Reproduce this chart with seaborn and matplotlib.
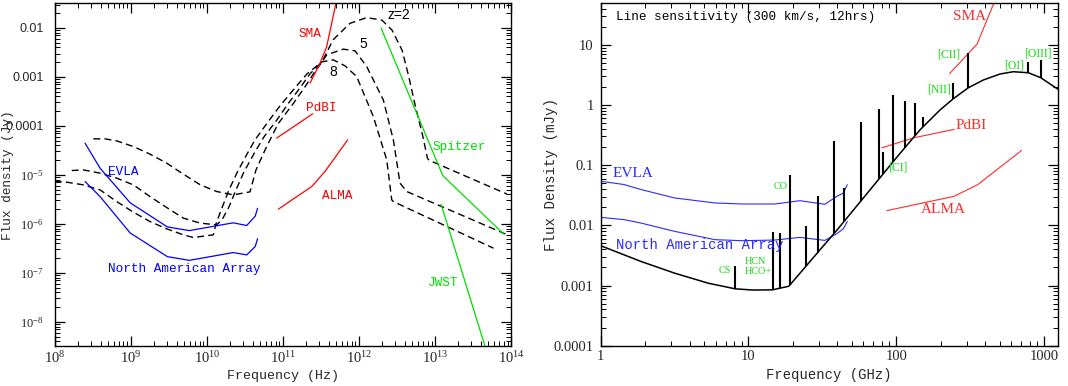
import numpy as np
import pandas as pd
import seaborn as sns
import matplotlib.pyplot as plt
from matplotlib.ticker import LogLocator, FuncFormatter, NullFormatter

# left panel, values in log10(Hz) and log10(Jy)
z2_lognu = [8.507, 8.661, 8.814, 9.033, 9.252, 9.472, 9.69, 9.914, 10.129, 10.348, 10.567, 10.646,
            10.778, 10.936, 11.133, 11.291, 11.409, 11.514, 11.659, 11.882, 12.102, 12.302, 12.436,
            12.569, 12.658, 12.747, 12.836, 12.902, 12.924, 13.947]
z2_logS = [-4.265, -4.265, -4.306, -4.422, -4.577, -4.761, -4.985, -5.204, -5.34, -5.408, -5.347, -4.898,
           -4.449, -3.959, -3.55, -3.203, -2.918, -2.693, -2.244, -1.907, -1.79, -1.841, -2.048,
           -2.462, -3.014, -3.634, -4.186, -4.669, -4.703, -5.393]

z5_lognu = [8.223, 8.375, 8.595, 8.814, 9.033, 9.252, 9.472, 9.69, 9.914, 10.129, 10.199, 10.291,
            10.383, 10.488, 10.633, 10.751, 10.922, 11.067, 11.225, 11.356, 11.514, 11.576, 11.794,
            11.948, 12.102, 12.32, 12.452, 12.54, 12.628, 13.947]
z5_logS = [-4.912, -4.898, -4.965, -5.067, -5.204, -5.443, -5.667, -5.883, -5.986, -6.02, -5.918, -5.653,
           -5.306, -4.939, -4.53, -4.224, -3.877, -3.55, -3.224, -2.938, -2.693, -2.55, -2.434,
           -2.468, -2.789, -3.469, -4.285, -5.169, -5.34, -6.221]

z8_lognu = [8.0, 8.157, 8.375, 8.595, 8.814, 9.033, 9.252, 9.472, 9.69, 9.822, 10.085, 10.12, 10.199,
            10.291, 10.396, 10.515, 10.633, 10.804, 10.962, 11.159, 11.317, 11.514, 11.662, 11.817,
            11.97, 12.189, 12.365, 12.431, 12.452, 13.769]
z8_logS = [-5.136, -5.149, -5.204, -5.306, -5.545, -5.761, -5.953, -6.102, -6.224, -6.279, -6.224, -6.0,
           -5.673, -5.306, -4.959, -4.612, -4.286, -3.918, -3.591, -3.224, -2.938, -2.693, -2.652,
           -2.775, -2.993, -3.81, -4.693, -5.51, -5.545, -6.497]

evla_lognu = [8.398, 8.595, 8.991, 9.48, 9.769, 10.347, 10.524, 10.636, 10.667]
evla_logS = [-4.353, -4.863, -5.57, -6.062, -6.138, -5.979, -6.034, -5.841, -5.683]
naa_lognu = [8.398, 8.595, 8.991, 9.48, 9.769, 10.347, 10.524, 10.636, 10.667]
naa_logS = [-5.136, -5.443, -6.186, -6.669, -6.745, -6.586, -6.634, -6.462, -6.303]

sma_lognu = [11.356, 11.488, 11.576, 11.707]
sma_logS = [-3.128, -2.72, -2.381, -1.427]
pdbi_lognu = [10.918, 11.391]
pdbi_logS = [-4.25, -3.754]
alma_lognu = [10.94, 11.379, 11.553, 11.852]
alma_logS = [-5.7, -5.238, -4.932, -4.285]
spitzer_lognu = [12.29, 13.102, 13.902]
spitzer_logS = [-2.0, -5.014, -6.207]
jwst_lognu = [13.08, 13.7]
jwst_logS = [-5.6, -8.71]

left_xticks = [1e8, 1e9, 1e10, 1e11, 1e12, 1e13, 1e14]
left_yticks = [1e-8, 1e-7, 1e-6, 1e-5, 1e-4, 1e-3, 1e-2]

# right panel, values in log10(GHz) and log10(mJy)
cont_lognu = [0.0, 0.273, 0.501, 0.729, 0.911, 1.03, 1.162, 1.273, 1.60, 2.026, 2.161, 2.296, 2.386,
              2.488, 2.589, 2.702, 2.792, 2.894, 2.978, 3.092]
cont_logS = [-2.338, -2.6, -2.795, -2.962, -3.055, -3.075, -3.072, -3.012, -2.075, -0.803, -0.413,
             -0.083, 0.104, 0.287, 0.415, 0.515, 0.553, 0.536, 0.453, 0.265]

evla_r_lognu = [0.0, 0.159, 0.273, 0.501, 0.774, 0.957, 1.18, 1.349, 1.517, 1.597, 1.641, 1.669]
evla_r_logS = [-1.267, -1.322, -1.405, -1.545, -1.628, -1.645, -1.645, -1.59, -1.65, -1.52, -1.465, -1.325]
naa_r_logS = [-1.867, -1.905, -1.962, -2.10, -2.238, -2.255, -2.244, -2.20, -2.25, -2.14, -2.06, -1.935]

sma_r_lognu = [2.361, 2.547, 2.70]
sma_r_logS = [0.522, 1.012, 1.93]
pdbi_r_lognu = [1.902, 2.119, 2.392]
pdbi_r_logS = [-0.712, -0.545, -0.405]
alma_r_lognu = [1.937, 2.392, 2.552, 2.848]
alma_r_logS = [-1.755, -1.517, -1.322, -0.755]

# emission lines (GHz, peak mJy)
line_ghz = [8.12, 14.7, 16.4, 19.1, 24.5, 29.4, 38.1, 44.4, 57.5, 76.5, 81.8, 95.1, 114.2, 133.4,
            151.8, 243.0, 307.5, 783.0, 950.0]
line_peak = [0.00213, 0.00766, 0.00738, 0.0687, 0.00975, 0.0311, 0.255, 0.0422, 0.527, 0.847, 0.164,
             1.47, 1.18, 1.07, 0.624, 2.34, 7.23, 5.24, 5.58]

green_labels = ["CO", "CS", "HCN", "HCO+", "[CI]", "[NII]", "[CII]", "[OI]", "[OIII]"]
green_x = [16.6, 6.96, 11.2, 11.65, 102.7, 195.0, 228.0, 628.0, 907.0]
green_y = [0.0447, 0.00176, 0.00255, 0.00172, 0.0902, 1.78, 7.0, 4.47, 7.16]

right_xticks = [1, 10, 100, 1000]
right_yticks = [1e-4, 1e-3, 1e-2, 0.1, 1, 10]

sns.set_theme(style="ticks")
plt.rcParams["font.family"] = ["Liberation Sans", "DejaVu Sans"]
plt.rcParams["mathtext.fontset"] = "custom"
plt.rcParams["mathtext.rm"] = "Liberation Serif"
plt.rcParams["mathtext.it"] = "Liberation Serif:italic"
plt.rcParams["axes.linewidth"] = 1.0
plt.rcParams["axes.edgecolor"] = "black"

GREEN = "#11dd11"
MONO = "Liberation Mono"
SERIF = "Liberation Serif"


def draw(ax, lognu, logs, color, lw=0.9, dashes=None):
    df = pd.DataFrame({"nu": 10 ** np.array(lognu), "S": 10 ** np.array(logs)})
    kw = {} if dashes is None else {"dashes": dashes}
    sns.lineplot(data=df, x="nu", y="S", ax=ax, color=color, lw=lw, sort=False,
                 estimator=None, **kw)


def style_axes(ax, xticks, yticks):
    ax.set_xscale("log")
    ax.set_yscale("log")
    ax.set_xticks(xticks)
    ax.set_yticks(yticks)
    ax.tick_params(which="both", direction="in", top=True, right=True, color="black")
    ax.tick_params(which="major", length=7, width=0.9)
    ax.tick_params(which="minor", length=3.5, width=0.7)
    for axis in (ax.xaxis, ax.yaxis):
        axis.set_minor_locator(LogLocator(base=10, subs=np.arange(2, 10), numticks=30))
        axis.set_minor_formatter(NullFormatter())


def left_ylab(v, p):
    if v >= 1e-4:
        return f"{v:g}"
    return r"$10^{%d}$" % round(np.log10(v))


fig = plt.figure(figsize=(10.68, 3.86), dpi=100)
ax1 = fig.add_axes([0.0513, 0.1028, 0.4272, 0.8884])
ax2 = fig.add_axes([0.5624, 0.1044, 0.4279, 0.8868])

# ---- left panel ----
for lx, ly in [(z2_lognu, z2_logS), (z5_lognu, z5_logS), (z8_lognu, z8_logS)]:
    draw(ax1, lx, ly, "black", lw=1.0, dashes=(5, 3))
draw(ax1, evla_lognu, evla_logS, "blue")
draw(ax1, naa_lognu, naa_logS, "blue")
draw(ax1, sma_lognu, sma_logS, "red")
draw(ax1, pdbi_lognu, pdbi_logS, "red")
draw(ax1, alma_lognu, alma_logS, "red")
draw(ax1, spitzer_lognu, spitzer_logS, "#00dd00")
draw(ax1, jwst_lognu, jwst_logS, "#00dd00")

style_axes(ax1, left_xticks, left_yticks)
ax1.set_xlim(1e8, 1e14)
ax1.set_ylim(10 ** -8.5, 10 ** -1.5)
ax1.yaxis.set_major_formatter(FuncFormatter(left_ylab))
ax1.xaxis.set_major_formatter(FuncFormatter(lambda v, p: r"$10^{%d}$" % round(np.log10(v))))
ax1.tick_params(axis="y", which="major", labelsize=9, pad=8)
ax1.tick_params(axis="x", which="major", labelsize=10.5, pad=3)
ax1.set_xlabel("Frequency (Hz)", family=MONO, fontsize=9.6)
ax1.set_ylabel("Flux density (Jy)", family=MONO, fontsize=9.2)
ax1.xaxis.set_label_coords(0.5, -0.069)
ax1.xaxis.label.set_va("top")
ax1.yaxis.set_label_coords(-0.09, 0.5)

for s, x, y in [("z=2", 12.524, -1.738), ("5", 12.058, -2.324), ("8", 11.658, -2.91)]:
    ax1.text(10 ** x, 10 ** y, s, color="black", ha="center", va="center", fontsize=10)
for s, x, y, c in [("SMA", 11.36, -2.117, "red"), ("PdBI", 11.502, -3.634, "red"),
                   ("ALMA", 11.716, -5.428, "red"), ("Spitzer", 13.324, -4.428, "#00dd00"),
                   ("EVLA", 8.902, -4.945, "blue"), ("North American Array", 9.702, -6.924, "blue"),
                   ("JWST", 13.102, -7.2, "#00dd00")]:
    ax1.text(10 ** x, 10 ** y, s, color=c, ha="center", va="center", fontsize=9.2, family=MONO)

# ---- right panel ----
draw(ax2, evla_r_lognu, evla_r_logS, "#2a2aff", lw=0.8)
draw(ax2, evla_r_lognu, naa_r_logS, "#2a2aff", lw=0.8)
draw(ax2, sma_r_lognu, sma_r_logS, "#ff2a2a", lw=0.8)
draw(ax2, pdbi_r_lognu, pdbi_r_logS, "#ff2a2a", lw=0.8)
draw(ax2, alma_r_lognu, alma_r_logS, "#ff2a2a", lw=0.8)
draw(ax2, cont_lognu, cont_logS, "black", lw=1.1)

line_base = 10 ** np.interp(np.log10(line_ghz), cont_lognu, cont_logS)
ax2.vlines(line_ghz, line_base, line_peak, color="black", lw=1.5)

style_axes(ax2, right_xticks, right_yticks)
ax2.set_xlim(1, 1236)
ax2.set_ylim(1e-4, 48.8)
ax2.xaxis.set_major_formatter(FuncFormatter(lambda v, p: f"{v:g}"))
ax2.yaxis.set_major_formatter(FuncFormatter(lambda v, p: f"{v:g}"))
ax2.tick_params(axis="y", which="major", labelsize=10.5, pad=5)
ax2.tick_params(axis="x", which="major", labelsize=10.5, pad=3)
for lab in ax2.get_xticklabels() + ax2.get_yticklabels():
    lab.set_family(SERIF)
ax2.set_xlabel("Frequency (GHz)", family=MONO, fontsize=10)
ax2.set_ylabel("Flux Density (mJy)", family=MONO, fontsize=10.2)
ax2.xaxis.set_label_coords(0.5, -0.065)
ax2.xaxis.label.set_va("top")
ax2.yaxis.set_label_coords(-0.093, 0.5)

ax2.text(1.266, 29.3, "Line sensitivity (300 km/s, 12hrs)", ha="left", va="center",
         fontsize=9.1, family=MONO, color="black")
for s, x, y, c in [("SMA", 312.6, 29.3, "#ff2a2a"), ("PdBI", 321.0, 0.464, "#ff2a2a"),
                   ("EVLA", 1.647, 0.0716, "#2a2aff"), ("ALMA", 207.6, 0.0183, "#ff2a2a")]:
    ax2.text(x, y, s, color=c, ha="center", va="center", fontsize=11, family=SERIF)
ax2.text(4.7, 0.00464, "North American Array", color="#2a2aff", ha="center", va="center",
         fontsize=10, family=MONO)
for s, x, y in zip(green_labels, green_x, green_y):
    fs = 8.5 if s.startswith("[") else 7.3
    ax2.text(x, y, s, color=GREEN, ha="center", va="center", fontsize=fs, family=SERIF)

fig.savefig("out.png", dpi=100)
